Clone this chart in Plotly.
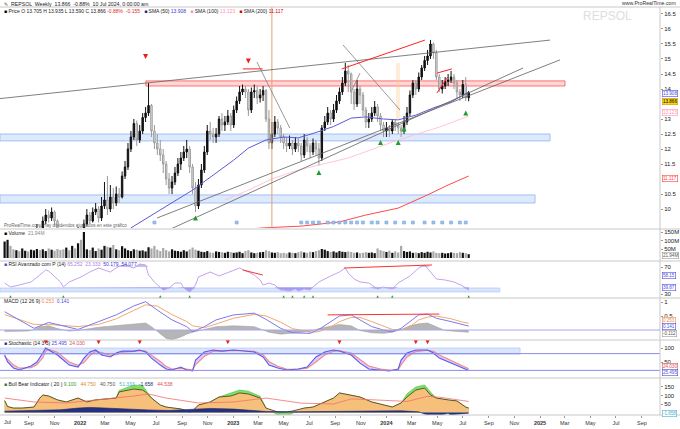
import pandas as pd
import plotly.graph_objects as go
from plotly.subplots import make_subplots

W, H = 680, 429
START = pd.Timestamp("2021-07-05")
FONT = "Liberation Sans, Arial, sans-serif"

# ---------------- data (weekly, week 0 = 5 Jul 2021) ----------------
closes = [8.9, 9.0, 8.8, 8.7, 8.9, 8.6, 8.8, 9.0, 8.9, 9.1,
          9.2, 9.3, 9.2, 9.6, 9.8, 9.7, 9.9, 9.6, 9.2, 9.0,
          8.9, 9.1, 9.0, 9.2, 9.1, 9.3, 9.2, 9.5, 9.8, 9.6,
          9.9, 10.0, 9.7, 10.1, 10.3, 10.0, 10.4, 10.2, 10.5, 10.4,
          11.1, 11.4, 12.0, 12.4, 12.85, 12.3, 12.6, 13.05, 13.2, 13.45,
          12.6, 12.2, 12.0, 11.8, 11.5, 11.0, 10.7, 10.9, 11.2, 11.5,
          11.7, 11.9, 12.0, 11.4, 10.7, 10.1, 10.8, 11.3, 11.9, 12.6,
          12.5, 12.4, 12.5, 13.0, 12.8, 12.9, 13.1, 12.8, 13.3, 13.6,
          13.9, 14.0, 13.9, 13.3, 13.9, 13.95, 13.7, 13.8, 13.95, 13.0,
          12.2, 12.5, 12.9, 12.7, 12.4, 12.2, 12.1, 12.2, 12.0, 12.2,
          12.1, 11.8, 12.3, 12.1, 11.9, 12.2, 12.0, 11.7, 12.7, 12.9,
          13.2, 13.0, 13.3, 13.6, 13.9, 14.2, 14.6, 14.5, 13.9, 13.5,
          14.0, 13.8, 13.3, 12.9, 13.0, 13.2, 13.4, 13.1, 12.8, 12.6,
          12.7, 12.6, 12.9, 12.8, 12.7, 12.6, 12.9, 13.2, 13.8, 14.2,
          14.0, 14.4, 14.7, 14.95, 15.1, 15.5, 15.2, 14.4, 14.0, 14.1,
          14.25, 14.3, 14.4, 14.2, 13.9, 13.8, 14.15, 13.705, 13.866]
highs = [9.05, 9.15, 9.1, 8.95, 9.0, 8.95, 8.9, 9.1, 9.15, 9.25,
         9.35, 9.5, 9.45, 9.75, 10.0, 9.95, 10.05, 9.95, 9.65, 9.3,
         9.15, 9.2, 9.25, 9.3, 9.3, 9.4, 9.4, 9.65, 10.0, 9.9,
         10.05, 10.2, 10.1, 10.4, 10.9, 11.1, 10.8, 10.7, 10.75, 10.7,
         11.25, 11.6, 12.2, 12.6, 13.0, 12.95, 12.8, 13.2, 13.4, 14.2,
         13.5, 12.8, 12.5, 12.3, 12.0, 11.6, 11.2, 11.1, 11.4, 11.7,
         11.9, 12.1, 12.3, 12.1, 11.5, 10.9, 11.0, 11.5, 12.1, 12.8,
         12.9, 12.7, 12.7, 13.1, 13.2, 13.1, 13.3, 13.2, 13.45, 13.75,
         14.1, 14.15, 14.1, 14.0, 14.05, 14.15, 14.1, 14.0, 14.1, 14.0,
         13.3, 12.9, 13.1, 13.0, 12.8, 12.5, 12.4, 12.45, 12.3, 12.4,
         12.35, 12.2, 12.5, 12.4, 12.2, 12.35, 12.3, 12.2, 12.8, 13.1,
         13.4, 13.3, 13.5, 13.8, 14.05, 14.4, 14.87, 14.8, 14.55, 14.0,
         14.3, 14.1, 13.9, 13.4, 13.2, 13.4, 13.6, 13.5, 13.2, 12.9,
         12.9, 12.8, 13.0, 13.0, 12.9, 12.8, 13.1, 13.4, 13.95, 14.3,
         14.3, 14.55, 14.8, 15.1, 15.3, 15.63, 15.55, 15.3, 14.5, 14.3,
         14.4, 14.5, 14.6, 14.5, 14.3, 14.0, 14.3, 14.4, 13.935]
lows = [8.7, 8.8, 8.7, 8.55, 8.6, 8.5, 8.5, 8.75, 8.8, 8.85,
        9.0, 9.1, 9.05, 9.15, 9.5, 9.55, 9.6, 9.45, 9.1, 8.85,
        8.7, 8.8, 8.9, 8.95, 9.0, 9.05, 9.1, 9.15, 9.45, 9.5,
        9.55, 9.8, 9.55, 9.6, 10.0, 9.8, 9.9, 10.0, 10.1, 10.2,
        10.35, 11.0, 11.3, 11.9, 12.3, 12.1, 12.2, 12.5, 12.9, 13.1,
        12.4, 12.0, 11.8, 11.6, 11.2, 10.8, 10.5, 10.5, 10.8, 11.1,
        11.3, 11.6, 11.7, 11.2, 10.5, 9.9, 10.0, 10.7, 11.2, 11.8,
        12.3, 12.2, 12.2, 12.4, 12.6, 12.6, 12.8, 12.6, 12.7, 13.2,
        13.5, 13.8, 13.7, 13.1, 13.2, 13.7, 13.5, 13.55, 13.6, 12.9,
        12.0, 12.0, 12.4, 12.5, 12.2, 12.0, 11.9, 12.0, 11.8, 11.9,
        11.9, 11.6, 11.7, 11.9, 11.7, 11.8, 11.8, 11.45, 11.6, 12.6,
        12.8, 12.8, 12.9, 13.2, 13.5, 13.8, 14.1, 13.9, 13.5, 13.3,
        13.4, 13.5, 13.1, 12.7, 12.7, 12.9, 13.1, 12.9, 12.6, 12.4,
        12.4, 12.4, 12.5, 12.6, 12.5, 12.4, 12.5, 12.8, 13.1, 13.7,
        13.8, 13.9, 14.3, 14.6, 14.8, 15.0, 15.0, 14.3, 13.9, 13.85,
        14.0, 14.1, 14.2, 14.0, 13.7, 13.6, 13.7, 13.6, 13.59]
first_open = 8.8
volumes_m = [95, 105, 70, 50, 45, 40, 55, 42, 38, 48,
             44, 52, 45, 50, 40, 55, 48, 42, 52, 46,
             50, 60, 45, 70, 55, 85, 105, 150, 50, 45,
             60, 40, 55, 48, 70, 65, 60, 75, 50, 45,
             68, 55, 45, 40, 50, 48, 42, 44, 38, 62,
             55, 70, 48, 40, 58, 45, 38, 50, 42, 40,
             36, 45, 38, 50, 60, 48, 42, 36, 34, 40,
             32, 30, 38, 35, 33, 30, 36, 34, 30, 32,
             36, 28, 40, 45, 32, 28, 30, 33, 35, 45,
             40, 32, 30, 34, 28, 30, 26, 32, 30, 28,
             34, 38, 32, 30, 36, 34, 40, 45, 52, 48,
             40, 35, 38, 32, 40, 36, 34, 38, 35, 30,
             32, 28, 30, 34, 30, 32, 28, 55, 45, 40,
             35, 42, 30, 38, 32, 70, 40, 35, 38, 30,
             32, 28, 34, 30, 36, 32, 38, 30, 28, 30,
             26, 28, 32, 30, 28, 34, 30, 28, 22]

sma50_w = [43, 49, 56, 64, 71, 78, 83, 89, 95, 100, 106, 112, 118, 123, 129, 134, 140, 146, 152, 158]
sma50_v = [9.37, 9.73, 10.13, 10.63, 11.13, 11.63, 12.03, 12.3, 12.4, 12.37, 12.55, 12.75,
           13.03, 13.07, 13.0, 12.97, 13.13, 13.37, 13.57, 13.9]
sma100_w = [75, 83, 91, 100, 117, 134, 148, 158]
sma100_v = [10.3, 10.63, 11.0, 11.3, 11.7, 12.3, 12.73, 13.1]
sma200_w = [80, 88, 101, 114, 123, 134, 144, 151, 158]
sma200_v = [9.3, 9.37, 9.43, 9.57, 9.8, 10.03, 10.47, 10.8, 11.1]

rsi_w = [0, 2, 5, 9, 12, 14, 15, 19, 20, 22, 26, 29, 32, 36, 39, 41, 44, 46, 48, 49,
         51, 53, 54, 56, 58, 60, 61, 63, 65, 66, 70, 73, 77, 80, 82, 83, 85, 87, 88, 90,
         92, 94, 95, 97, 99, 100, 102, 104, 105, 107, 111, 114, 116, 117, 119, 121, 124, 127, 129, 132,
         134, 138, 141, 143, 145, 147, 150, 153, 156, 158]
rsi_v = [46.3, 40.4, 43.3, 47.8, 58.1, 65.6, 64.1, 47.8, 40.4, 47.8, 55.2, 62.6, 68.5, 62.6, 71.5, 73, 68.5, 74.4, 73, 58.1,
         47.8, 38.9, 35.9, 38.9, 46.3, 46.3, 38.9, 33, 43.3, 55.2, 62.6, 56.7, 64.1, 68.5, 64.1, 62.6, 58.1, 50.7, 43.3, 46.3,
         43.3, 35.9, 35.9, 34.4, 37.4, 34.4, 37.4, 35.9, 40.4, 47.8, 56.7, 62.6, 68.5, 61.1, 52.2, 47.8, 46.3, 37.4, 40.4, 37.4,
         46.3, 56.7, 68.5, 73, 62.6, 52.2, 50.7, 47.8, 41.9, 35.9]

macd_w = [0, 10, 15, 25, 32, 38, 44, 48, 52, 57, 62, 64, 68, 72, 78, 85, 89, 94, 98, 104,
          107, 111, 114, 118, 121, 125, 129, 132, 135, 138, 141, 144, 147, 152, 156, 158]
macd_v = [0.655, 0.06, 0.27, 0.02, 0.30, 0.54, 0.86, 1.01, 0.71, 0.36, 0.12, -0.06, 0.12, 0.36, 0.54, 0.6, 0.38, 0.06, -0.1, -0.12,
          0.02, 0.30, 0.5, 0.54, 0.36, 0.12, 0.0, -0.06, 0.06, 0.3, 0.54, 0.57, 0.42, 0.3, 0.18, 0.14]
signal_v = [0.55, 0.2, 0.2, 0.12, 0.2, 0.4, 0.7, 0.9, 0.85, 0.55, 0.3, 0.15, 0.08, 0.22, 0.42, 0.56, 0.5, 0.28, 0.05, -0.08,
            -0.06, 0.1, 0.3, 0.45, 0.45, 0.3, 0.15, 0.02, 0.0, 0.12, 0.36, 0.46, 0.5, 0.4, 0.28, 0.24]
hist_w = [0, 5, 8, 10, 12, 15, 18, 22, 26, 32, 38, 44, 48, 50, 52, 55, 57, 60, 62, 64,
          68, 72, 78, 85, 88, 90, 94, 98, 104, 107, 111, 114, 118, 121, 125, 129, 132, 135, 138, 141,
          144, 147, 150, 154, 158]
hist_v = [-0.05, -0.06, -0.04, 0.02, 0.12, 0.15, 0.05, -0.04, 0.0, 0.1, 0.15, 0.22, 0.25, 0.12, -0.05, -0.3, -0.35, -0.25, -0.15, -0.08,
          0.02, 0.12, 0.15, 0.12, 0.0, -0.08, -0.15, -0.12, -0.05, 0.05, 0.15, 0.2, 0.15, -0.02, -0.1, -0.12, -0.08, 0.02, 0.15, 0.22,
          0.25, 0.12, -0.02, -0.05, -0.08]

stk_w = [0, 1, 3, 5, 9, 11, 13, 14, 15, 18, 20, 22, 25, 27, 29, 31, 33, 36, 38, 40,
         44, 46, 48, 50, 53, 55, 57, 60, 62, 64, 65, 68, 71, 74, 78, 81, 85, 88, 90, 93,
         96, 100, 103, 106, 109, 112, 114, 118, 121, 124, 128, 131, 134, 135, 137, 140, 144, 146, 148, 152,
         155, 158]
stk_k = [75, 50, 28.6, 21.4, 35.7, 50, 82, 100, 93, 75, 57, 39, 32, 64, 86, 93, 75, 68, 82, 89,
         89, 93, 86, 64, 39, 25, 21.4, 32, 21.4, 18, 57, 86, 93, 89, 93, 89, 86, 68, 39, 28.6,
         21.4, 25, 32, 68, 86, 93, 89, 75, 46, 25, 21.4, 18, 25, 57, 82, 93, 93, 82, 64, 46,
         32, 20]
stk_d = [70, 60, 40, 28, 30, 40, 65, 88, 95, 85, 68, 50, 38, 48, 72, 88, 84, 74, 76, 85,
         88, 90, 89, 75, 52, 34, 25, 27, 25, 22, 40, 70, 88, 90, 91, 90, 88, 76, 52, 35,
         25, 24, 28, 50, 75, 88, 90, 82, 60, 36, 25, 21, 22, 40, 68, 87, 92, 88, 75, 55,
         40, 26]

bb_w = [0, 1, 3, 6, 10, 12, 13, 15, 18, 21, 25, 28, 31, 35, 38, 39, 42, 44, 47, 48,
        50, 53, 55, 57, 60, 63, 64, 66, 70, 73, 77, 80, 83, 87, 89, 93, 96, 98, 102, 105,
        108, 112, 114, 118, 121, 125, 129, 132, 135, 137, 140, 143, 145, 147, 151, 154, 157, 158]
bb_main = [70, 35, 26, 26, 32, 85, 103, 97, 74, 62, 85, 62, 74, 79, 85, 121, 132, 138, 132, 121,
           85, 44, 32, 26, 21, 3, 9, 44, 62, 91, 97, 115, 109, 85, 26, 3, 3, 9, 26, 32,
           56, 85, 115, 103, 91, 62, 44, 32, 56, 91, 132, 144, 103, 85, 74, 68, 32, 26]
bb_bull = [70, 35, 26, 26, 32, 85, 103, 97, 74, 62, 85, 62, 74, 79, 85, 130, 150, 162, 158, 135,
           85, 44, 32, 26, 21, 3, 9, 44, 62, 91, 115, 132, 125, 95, 26, -15, -20, -5, 26, 32,
           56, 85, 115, 103, 91, 62, 44, 32, 56, 110, 150, 162, 120, 85, 74, 68, 32, 26]
bb_avg_w = [0, 10, 21, 32, 44, 49, 55, 66, 78, 89, 101, 112, 118, 125, 137, 144, 148, 156, 158]
bb_avg_v = [85, 62, 56, 74, 97, 109, 85, 56, 62, 85, 55, 50, 80, 75, 65, 95, 90, 70, 65]
bear_w = [0, 5, 12, 19, 25, 29, 32, 36, 43, 49, 56, 64, 70, 78, 84, 89, 97, 107, 114, 124,
          135, 141, 145, 148, 151, 152, 154, 158]
bear_v = [8, 10, 14, 16, 26, 30, 28, 24, 18, 15, 12, 20, 24, 20, 14, 6, 4, 6, 10, 12,
          10, 4, -22, -18, -5, -18, -10, -4]

# signals
up_arrow_w = [65, 107, 128, 134, 136, 157]
up_arrow_p = [9.78, 11.3, 12.3, 12.3, 12.75, 13.28]
down_arrow_w = [48, 83]
down_arrow_p = [15.0, 14.85]
rsi_arrow_w = [2, 20, 53, 63, 95, 98, 102, 105, 127, 132, 158]
stk_arrow_w = [14, 32, 46, 76, 114, 140, 144]
event_w = [51, 79, 101, 103, 105, 107, 110, 112, 114, 116, 118, 120, 122, 125, 127,
           130, 133, 136, 139, 143, 146, 149, 152, 155, 157]

# drawn objects (week, price)
trendlines = [  # w0, p0, w1, p1, colour, width
    (-1.6, 13.68, 185.7, 15.63, "#606060", 0.8),
    (51.9, 9.70, 189.1, 14.97, "#606060", 0.8),
    (52.9, 9.17, 176.5, 14.70, "#606060", 0.8),
    (85.9, 14.90, 97.1, 12.70, "#707070", 0.7),
    (115.2, 15.47, 134.6, 13.30, "#707070", 0.7),
    (118.3, 13.97, 121.0, 14.53, "#707070", 0.7),
    (114.8, 14.67, 143.1, 15.63, "#ff2020", 1.0),
    (147.2, 14.53, 152.3, 14.67, "#ff2020", 1.0),
    (147.2, 13.87, 150.9, 14.40, "#ff2020", 1.0),
    (81.1, 14.67, 87.9, 14.67, "#ff2020", 1.0),
]
price_zones = [  # w0, w1, p_low, p_high, kind
    (48.1, 190.8, 14.10, 14.27, "red"),
    (-1.6, 185.7, 12.27, 12.50, "blue"),
    (-1.6, 180.6, 10.20, 10.47, "blue"),
]
vline_w = 91.0
rsi_zone = (-1.6, 168.6, 33.0, 38.9)
stk_zone = (-1.6, 175.5, 78.0, 100.0)
rsi_lines = [(81.1, 65.6, 87.9, 58.1), (115.6, 68.5, 145.5, 73.0)]
macd_line = (110.0, 0.54, 148.0, 0.57)

x_ticks = pd.date_range("2021-09-01", "2025-09-01", freq="2MS")


# ---------------- helpers ----------------
def wk(w):
    return (START + pd.Timedelta(days=7 * w)).strftime("%Y-%m-%d %H:%M")


def wks(ws):
    return [wk(w) for w in ws]


def px(x):
    return x / W


def py(y):
    return 1 - y / H


dates = wks(range(len(closes)))
opens = [first_open] + closes[:-1]

fig = make_subplots(rows=6, cols=1, shared_xaxes=True, vertical_spacing=0.0)

# ---------------- main panel ----------------
fig.add_trace(go.Scatter(x=wks(sma200_w), y=sma200_v, mode="lines",
                         line=dict(color="#ff4a4a", width=1.0), hoverinfo="skip"), row=1, col=1)
fig.add_trace(go.Scatter(x=wks(sma100_w), y=sma100_v, mode="lines",
                         line=dict(color="#ffc0d0", width=0.9), hoverinfo="skip"), row=1, col=1)
fig.add_trace(go.Scatter(x=wks(sma50_w), y=sma50_v, mode="lines",
                         line=dict(color="#5a5ad8", width=1.0), hoverinfo="skip"), row=1, col=1)
fig.add_trace(go.Candlestick(x=dates, open=opens, high=highs, low=lows, close=closes,
                             increasing=dict(line=dict(color="#111111", width=1.0), fillcolor="#111111"),
                             decreasing=dict(line=dict(color="#9a9a9a", width=1.0), fillcolor="#ececec"),
                             whiskerwidth=0, hoverinfo="skip"), row=1, col=1)
fig.add_trace(go.Scatter(x=wks(up_arrow_w), y=up_arrow_p, mode="markers",
                         marker=dict(symbol="arrow-up", size=5, color="#1e9e2a"), hoverinfo="skip"), row=1, col=1)
fig.add_trace(go.Scatter(x=wks(down_arrow_w), y=down_arrow_p, mode="markers",
                         marker=dict(symbol="arrow-down", size=5, color="#ee1c1c"), hoverinfo="skip"), row=1, col=1)
fig.add_trace(go.Scatter(x=wks(event_w), y=[9.55] * len(event_w), mode="markers",
                         marker=dict(symbol="square", size=3, color="#9ec3ee",
                                     line=dict(color="#6a9ad8", width=0.5)), hoverinfo="skip"), row=1, col=1)

shapes = []
for w0, w1, lo, hi, kind in price_zones:
    if kind == "red":
        fc, lc = "rgba(255,140,140,0.35)", "#ff5050"
    else:
        fc, lc = "rgba(170,200,250,0.40)", "#8fb4ee"
    shapes.append(dict(type="rect", xref="x", yref="y", x0=wk(w0), x1=wk(w1), y0=lo, y1=hi,
                       fillcolor=fc, line=dict(color=lc, width=0.8), layer="below"))
shapes.append(dict(type="line", xref="x", yref="y", x0=wk(vline_w), x1=wk(vline_w), y0=9.367, y1=16.733,
                   line=dict(color="#e0a070", width=1.0)))
shapes.append(dict(type="rect", xref="x", yref="y", x0=wk(133.3), x1=wk(134.6), y0=12.97, y1=14.87,
                   fillcolor="rgba(250,200,140,0.35)", line=dict(width=0), layer="below"))
for w0, p0, w1, p1, c, lw in trendlines:
    shapes.append(dict(type="line", xref="x", yref="y", x0=wk(w0), y0=p0, x1=wk(w1), y1=p1,
                       line=dict(color=c, width=lw)))

# ---------------- volume ----------------
vol_colors = ["#111111" if c >= o else "#a8a8a8" for o, c in zip(opens, closes)]
fig.add_trace(go.Bar(x=dates, y=volumes_m, marker=dict(color=vol_colors, line=dict(width=0)),
                     hoverinfo="skip"), row=2, col=1)

# ---------------- RSI ----------------
w0, w1, lo, hi = rsi_zone
shapes.append(dict(type="rect", xref="x3", yref="y3", x0=wk(w0), x1=wk(w1), y0=lo, y1=hi,
                   fillcolor="rgba(170,195,250,0.45)", line=dict(color="#a9c0f2", width=0.6), layer="below"))
fig.add_trace(go.Scatter(x=wks(rsi_w), y=[40] * len(rsi_w), mode="lines", line=dict(width=0),
                         hoverinfo="skip"), row=3, col=1)
fig.add_trace(go.Scatter(x=wks(rsi_w), y=[min(v, 40) for v in rsi_v], mode="lines", line=dict(width=0),
                         fill="tonexty", fillcolor="rgba(110,110,235,0.55)", hoverinfo="skip"), row=3, col=1)
fig.add_trace(go.Scatter(x=wks(rsi_w), y=[70] * len(rsi_w), mode="lines", line=dict(width=0),
                         hoverinfo="skip"), row=3, col=1)
fig.add_trace(go.Scatter(x=wks(rsi_w), y=[max(v, 70) for v in rsi_v], mode="lines", line=dict(width=0),
                         fill="tonexty", fillcolor="rgba(150,120,235,0.5)", hoverinfo="skip"), row=3, col=1)
fig.add_trace(go.Scatter(x=wks(rsi_w), y=rsi_v, mode="lines", line=dict(color="#c5a2ee", width=1.0),
                         hoverinfo="skip"), row=3, col=1)
fig.add_trace(go.Scatter(x=wks(rsi_arrow_w), y=[28.3] * len(rsi_arrow_w), mode="markers",
                         marker=dict(symbol="arrow-up", size=5, color="#1e9e2a"), hoverinfo="skip"), row=3, col=1)
for a0, v0, a1, v1 in rsi_lines:
    shapes.append(dict(type="line", xref="x3", yref="y3", x0=wk(a0), y0=v0, x1=wk(a1), y1=v1,
                       line=dict(color="#ff3030", width=1.0)))

# ---------------- MACD ----------------
fig.add_trace(go.Scatter(x=wks(hist_w), y=hist_v, mode="lines", line=dict(color="#9a9a9a", width=0.5),
                         fill="tozeroy", fillcolor="rgba(120,120,120,0.55)", hoverinfo="skip"), row=4, col=1)
shapes.append(dict(type="line", xref="paper", yref="y4", x0=0, x1=px(660), y0=0, y1=0,
                   line=dict(color="#a8a8f0", width=1.0)))
fig.add_trace(go.Scatter(x=wks(macd_w), y=signal_v, mode="lines", line=dict(color="#f4a870", width=1.0),
                         hoverinfo="skip"), row=4, col=1)
fig.add_trace(go.Scatter(x=wks(macd_w), y=macd_v, mode="lines", line=dict(color="#7a7af0", width=1.0),
                         hoverinfo="skip"), row=4, col=1)
a0, v0, a1, v1 = macd_line
shapes.append(dict(type="line", xref="x4", yref="y4", x0=wk(a0), y0=v0, x1=wk(a1), y1=v1,
                   line=dict(color="#ff3030", width=1.0)))

# ---------------- Stochastic ----------------
w0, w1, lo, hi = stk_zone
shapes.append(dict(type="rect", xref="x5", yref="y5", x0=wk(w0), x1=wk(w1), y0=lo, y1=hi,
                   fillcolor="rgba(175,200,250,0.45)", line=dict(color="#a9c0f2", width=0.6), layer="below"))
for lvl in (80, 20):
    shapes.append(dict(type="line", xref="paper", yref="y5", x0=0, x1=px(660), y0=lvl, y1=lvl,
                       line=dict(color="#8c8cf0", width=1.0)))
fig.add_trace(go.Scatter(x=wks(stk_w), y=stk_d, mode="lines", line=dict(color="#f08a8a", width=1.1),
                         hoverinfo="skip"), row=5, col=1)
fig.add_trace(go.Scatter(x=wks(stk_w), y=stk_k, mode="lines", line=dict(color="#5a5af0", width=1.1),
                         fill="tonexty", fillcolor="rgba(190,140,235,0.45)", hoverinfo="skip"), row=5, col=1)
fig.add_trace(go.Scatter(x=wks(stk_arrow_w), y=[113] * len(stk_arrow_w), mode="markers",
                         marker=dict(symbol="arrow-down", size=5, color="#ee1c1c"), hoverinfo="skip"), row=5, col=1)

# ---------------- bottom indicator ----------------
fig.add_trace(go.Scatter(x=wks(bb_w), y=bb_bull, mode="lines", line=dict(color="#44c040", width=0.6),
                         fill="tozeroy", fillcolor="#7ee06a", hoverinfo="skip"), row=6, col=1)
fig.add_trace(go.Scatter(x=wks(bb_w), y=bb_main, mode="lines", line=dict(color="#4a3a10", width=0.8),
                         fill="tozeroy", fillcolor="#f6c07a", hoverinfo="skip"), row=6, col=1)
fig.add_trace(go.Scatter(x=wks(bear_w), y=bear_v, mode="lines", line=dict(color="#1a2470", width=0.6),
                         fill="tozeroy", fillcolor="#26307e", hoverinfo="skip"), row=6, col=1)
fig.add_trace(go.Scatter(x=wks(bb_avg_w), y=bb_avg_v, mode="lines", line=dict(color="#f07070", width=0.8),
                         hoverinfo="skip"), row=6, col=1)

# ---------------- axes ----------------
domains = {1: (7, 228), 2: (229, 261), 3: (261, 298), 4: (298, 340), 5: (340, 378), 6: (378, 415)}
ranges = {1: [9.367, 16.733], 2: [-17.3, 167.3], 3: [24.07, 78.89], 4: [-0.357, 1.143],
          5: [-7.14, 128.57], 6: [-14.7, 202.9]}
ticks = {1: ([10, 10.5, 11.5, 12, 12.5, 13, 14, 14.5, 15, 15.5, 16, 16.5],
             ["10", "10.5", "11.5", "12", "12.5", "13", "14", "14.5", "15", "15.5", "16", "16.5"]),
         2: ([50, 100, 150], ["50M", "100M", "150M"]),
         3: ([30, 70], ["30", "70"]),
         4: ([0.5, 1], ["0.5", "1"]),
         5: ([50, 100], ["50", "100"]),
         6: ([50, 100, 150], ["50", "100", "150"])}
x_range = ["2021-06-24", "2025-10-14"]
for r in range(1, 7):
    yn = "yaxis" if r == 1 else f"yaxis{r}"
    xn = "xaxis" if r == 1 else f"xaxis{r}"
    t, b = domains[r]
    fig.layout[yn].update(domain=[1 - b / H, 1 - t / H], range=ranges[r], side="right",
                          showgrid=False, zeroline=False, tickvals=ticks[r][0], ticktext=ticks[r][1],
                          tickfont=dict(size=6, color="#222", family=FONT), ticks="outside",
                          ticklen=2, tickcolor="#999", fixedrange=True, automargin=False,
                          showline=False)
    fig.layout[xn].update(domain=[0, px(660)], range=x_range, showgrid=False, zeroline=False,
                          rangeslider=dict(visible=False), showticklabels=(r == 6), type="date",
                          automargin=False, showline=False, ticks="", fixedrange=True)

tt = []
for d in x_ticks:
    tt.append(f"<b>{d.year}</b>" if d.month == 1 else d.strftime("%b"))
fig.layout["xaxis6"].update(tickvals=[d.strftime("%Y-%m-%d") for d in x_ticks], ticktext=tt,
                            tickfont=dict(size=5.5, color="#333", family=FONT), ticks="outside",
                            ticklen=2, tickcolor="#999")

# panel separators
for yb in (7, 229, 261, 298, 340, 378, 415):
    shapes.append(dict(type="line", xref="paper", yref="paper", x0=0, x1=1, y0=py(yb), y1=py(yb),
                       line=dict(color="#c8c8c8", width=1)))
shapes.append(dict(type="line", xref="paper", yref="paper", x0=px(660), x1=px(660), y0=py(415), y1=py(7),
                   line=dict(color="#c8c8c8", width=1)))

# ---------------- texts ----------------
ann = []


def label(x, y, text, size=5.2, color="#222", anchor="left", **kw):
    ann.append(dict(x=px(x), y=py(y), xref="paper", yref="paper", text=text, showarrow=False,
                    xanchor=anchor, yanchor="middle", font=dict(size=size, color=color, family=FONT), **kw))


def box(yref, yval, text, color, bg="#ffffff", border=None, fcolor=None):
    ann.append(dict(x=px(662), y=yval, xref="paper", yref=yref, text=text, showarrow=False,
                    xanchor="left", yanchor="middle", bgcolor=bg, bordercolor=border or color,
                    borderwidth=0.6, borderpad=0.3,
                    font=dict(size=4.6, color=fcolor or color, family=FONT)))


label(9, 3.5, "REPSOL  Weekly  13.866  -0.88%  10 Jul 2024, 0:00:00 am", size=5.2)
label(2, 3.5, "✎", size=5, color="#555")
label(678, 3.0, "www.ProRealTime.com", size=5.2, color="#333", anchor="right")
label(2, 10.5, '<span style="color:#000">■</span> Price O 13.705 H 13.935 L 13.590 C 13.866 '
      '<span style="color:#e02a2a">-0.88%  -0.155</span>   '
      '<span style="color:#1d1d8a">■</span> SMA (50) <span style="color:#3a3ad0">13.908</span>   '
      '<span style="color:#ff8fb4">■</span> SMA (100) <span style="color:#ff8fb4">13.123</span>   '
      '<span style="color:#e00000">■</span> SMA (200) <span style="color:#e00000">11.117</span>', size=5)
label(607, 16, "REPSOL", size=12, color="#dedede", anchor="center")
label(2, 225, "ProRealTime.com: Hay dividendos ajustados en este gráfico", size=4.6, color="#666")
label(2, 232.5, '<span style="color:#000">■</span> Volume  <span style="color:#888">21.94M</span>', size=5)
label(2, 264, '<span style="color:#5050c0">■</span> RSI Avanzado com P (14) '
      '<span style="color:#b080e0">65.252  23.333</span>  '
      '<span style="color:#3a3ad0">50.179  54.077</span>', size=5)
label(2, 301, 'MACD (12 26 9) <span style="color:#f08a50">0.253</span>  '
      '<span style="color:#4a4ae0">0.141</span>', size=5)
label(2, 343, '<span style="color:#3030b0">■</span> Stochastic (14 3 3) '
      '<span style="color:#4a4ae0">25.495</span>  <span style="color:#e05050">24.030</span>', size=5)
label(2, 383.5, '<span style="color:#3a7a2a">■</span> Bull Bear Indicator ( 20 ) '
      '<span style="color:#3a9a2a">9.100</span>   <span style="color:#d88a30">44.750</span>   '
      '<span style="color:#555">40.750</span>   <span style="color:#4ab0d0">51.333</span>   '
      '<span style="color:#1a2470">-1.658</span>   <span style="color:#e05050">44.538</span>', size=5)
label(2, 421.5, "Jul", size=5.5, color="#333")

box("y", 13.84, "13.908", "#4a4ad8")
box("y", 13.58, "13.866", "#c8a000", bg="#ffd21a", fcolor="#000")
box("y", 13.22, "13.123", "#ff8fb4")
box("y", 11.03, "11.117", "#ff4040")
box("y2", 16, "21.94M", "#999999", fcolor="#555")
box("y3", 58.1, "58.15", "#5050d8")
box("y3", 38.9, "39.87", "#5050d8")
box("y4", 0.33, "0.253", "#f08a50")
box("y4", 0.11, "0.141", "#5050d8")
box("y4", -0.12, "-0.112", "#999999", fcolor="#555")
box("y5", 33, "24.030", "#e05050")
box("y5", 11, "25.495", "#5050d8")
box("y6", -8, "-1.658", "#4ab0d0")

fig.update_layout(template="none", width=W, height=H, margin=dict(l=0, r=0, t=0, b=0, pad=0),
                  showlegend=False, paper_bgcolor="white", plot_bgcolor="white",
                  shapes=shapes, annotations=ann, bargap=0.25, font=dict(family=FONT),
                  hovermode=False)

fig.write_html("out.html", config={"displayModeBar": False, "staticPlot": True},
               post_script="document.body.style.margin='0px';document.body.style.overflow='hidden';")
